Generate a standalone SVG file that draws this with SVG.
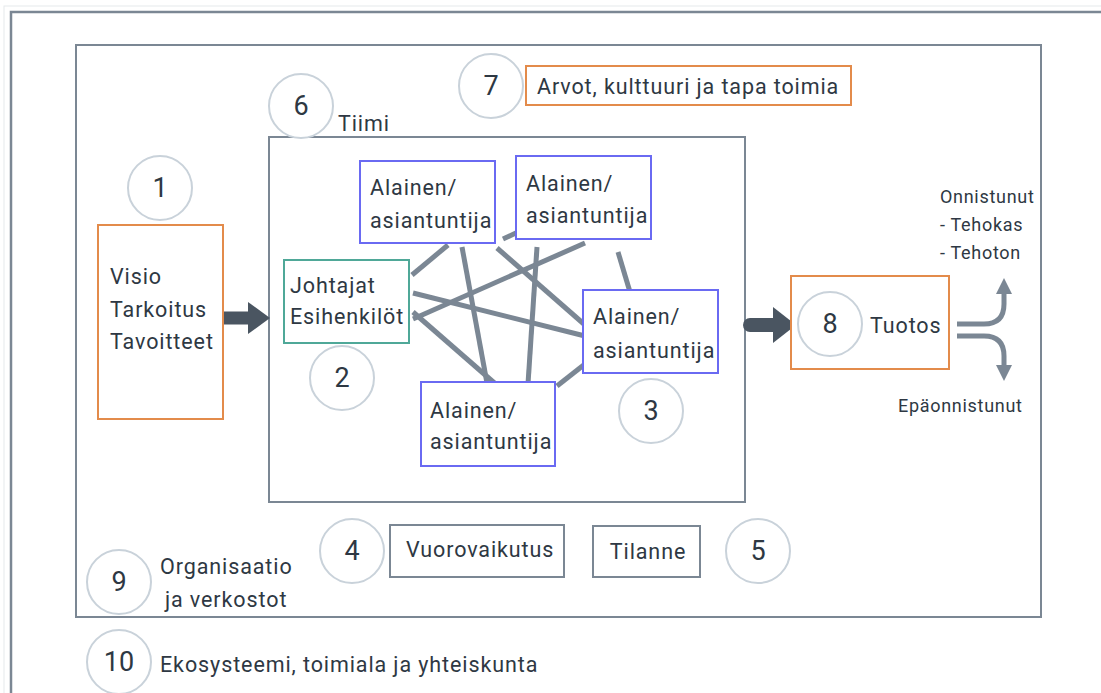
<svg xmlns="http://www.w3.org/2000/svg" width="1101" height="693" viewBox="0 0 1101 693">
<defs>
<style>
.t{font-family:Roboto,"Liberation Sans",sans-serif;font-size:21.5px;letter-spacing:0.9px;fill:#2e3843}
.s{font-size:18px;letter-spacing:0.7px}
.n{font-family:Roboto,"Liberation Sans",sans-serif;font-size:27px;fill:#2e3843;text-anchor:middle;dominant-baseline:central}
.c{fill:#fff;stroke:#c9d2da;stroke-width:2}
.blue{fill:#fff;stroke:#6a6af2;stroke-width:2}
.org{fill:#fff;stroke:#e38b4b;stroke-width:2}
.gr{fill:#fff;stroke:#7b8794;stroke-width:2}
.link{stroke:#7b8794;stroke-width:5;fill:none}
</style>
<marker id="ah" viewBox="0 0 10 10" refX="5" refY="5" markerWidth="3.2" markerHeight="3.2" orient="auto"><path d="M0,0 L10,5 L0,10 z" fill="#7b8794"/></marker>
</defs>
<rect x="0" y="0" width="1101" height="693" fill="#fff"/>
<rect x="4" y="6" width="1110" height="700" fill="none" stroke="#e6e9ec" stroke-width="1"/>
<rect x="11" y="12" width="1100" height="700" fill="none" stroke="#7b8794" stroke-width="2.5"/>
<rect x="76" y="45" width="965" height="572" fill="none" stroke="#7b8794" stroke-width="2"/>

<g id="team"><rect x="269" y="137" width="476" height="365" class="gr"/></g>

<g id="connectors">
<line class="link" x1="412" y1="275" x2="448" y2="245"/>
<line class="link" x1="462" y1="247" x2="487" y2="383"/>
<line class="link" x1="497" y1="248" x2="585" y2="325"/>
<line class="link" x1="503" y1="239" x2="518" y2="232"/>
<line class="link" x1="537" y1="247" x2="528" y2="384"/>
<line class="link" x1="585" y1="243" x2="413" y2="319"/>
<line class="link" x1="618" y1="252" x2="630" y2="292"/>
<line class="link" x1="413" y1="293" x2="585" y2="336"/>
<line class="link" x1="413" y1="312" x2="499" y2="387"/>
<line class="link" x1="557" y1="386" x2="585" y2="364"/>
<path d="M222,318 H250" stroke="#4a5561" stroke-width="13" stroke-linecap="round" fill="none"/>
<path d="M248,302 L270,318 L248,334 z" fill="#4a5561"/>
<path d="M750,325 H776" stroke="#4a5561" stroke-width="14" stroke-linecap="round" fill="none"/>
<path d="M773,307 L796,325 L773,343 z" fill="#4a5561"/>
<path class="link" d="M957,324 H984 Q1004,324 1004,304 V286" marker-end="url(#ah)"/>
<path class="link" d="M957,336 H984 Q1004,336 1004,356 V373" marker-end="url(#ah)"/>
</g>

<g id="n1"><circle cx="160" cy="188" r="32" class="c"/><text x="160" y="188" class="n">1</text></g>
<g id="visio"><rect x="98" y="225" width="125" height="194" class="org"/>
<text x="110" y="284" class="t">Visio</text><text x="110" y="317" class="t">Tarkoitus</text><text x="110" y="349" class="t">Tavoitteet</text></g>

<g id="n6"><circle cx="301" cy="106" r="32" class="c"/><text x="301" y="106" class="n">6</text><text x="338" y="131" class="t">Tiimi</text></g>
<g id="n7"><circle cx="491" cy="86" r="32" class="c"/><text x="491" y="86" class="n">7</text></g>
<g id="arvot"><rect x="526" y="66" width="325" height="39" class="org"/><text x="537" y="94" class="t">Arvot, kulttuuri ja tapa toimia</text></g>

<g id="a1"><rect x="360" y="161" width="135" height="82" class="blue"/><text x="370" y="195" class="t">Alainen/</text><text x="370" y="228" class="t">asiantuntija</text></g>
<g id="a2"><rect x="516" y="156" width="135" height="83" class="blue"/><text x="526" y="191" class="t">Alainen/</text><text x="526" y="223" class="t">asiantuntija</text></g>
<g id="johtajat"><rect x="284" y="260" width="125" height="83" fill="#fff" stroke="#4fa898" stroke-width="2"/><text x="290" y="293" class="t">Johtajat</text><text x="290" y="324" class="t">Esihenkilöt</text></g>
<g id="a3"><rect x="583" y="290" width="135" height="83" class="blue"/><text x="593" y="324" class="t">Alainen/</text><text x="593" y="358" class="t">asiantuntija</text></g>
<g id="a4"><rect x="421" y="382" width="134" height="84" class="blue"/><text x="430" y="418" class="t">Alainen/</text><text x="430" y="449" class="t">asiantuntija</text></g>
<g id="n2"><circle cx="342" cy="378" r="32" class="c"/><text x="342" y="378" class="n">2</text></g>
<g id="n3"><circle cx="651" cy="411" r="32" class="c"/><text x="651" y="411" class="n">3</text></g>

<g id="tuotos"><rect x="791" y="276" width="158" height="93" class="org"/><circle cx="830" cy="324" r="32" class="c"/><text x="830" y="324" class="n">8</text><text x="870" y="333" class="t">Tuotos</text></g>
<g id="outcome"><text x="940" y="203" class="t s">Onnistunut</text><text x="940" y="231" class="t s">- Tehokas</text><text x="940" y="259" class="t s">- Tehoton</text><text x="898" y="412" class="t s">Epäonnistunut</text></g>

<g id="n4"><circle cx="352" cy="551" r="32" class="c"/><text x="352" y="551" class="n">4</text></g>
<g id="vuoro"><rect x="390" y="525" width="174" height="52" class="gr"/><text x="406" y="557" class="t">Vuorovaikutus</text></g>
<g id="tilanne"><rect x="593" y="526" width="107" height="51" class="gr"/><text x="648" y="559" class="t" text-anchor="middle">Tilanne</text></g>
<g id="n5"><circle cx="758" cy="551" r="32" class="c"/><text x="758" y="551" class="n">5</text></g>

<g id="n9"><circle cx="119" cy="582" r="32" class="c"/><text x="119" y="582" class="n">9</text><text x="160" y="574" class="t">Organisaatio</text><text x="165" y="607" class="t">ja verkostot</text></g>
<g id="n10"><circle cx="119" cy="662" r="32" class="c"/><text x="119" y="662" class="n">10</text><text x="160" y="672" class="t">Ekosysteemi, toimiala ja yhteiskunta</text></g>
</svg>
